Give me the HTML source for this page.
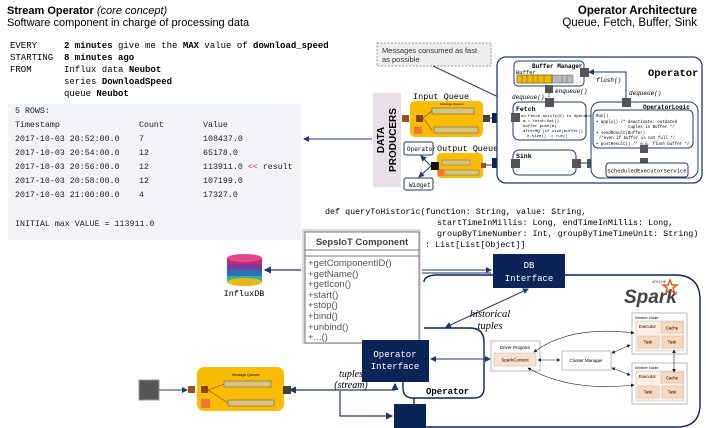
<!DOCTYPE html>
<html><head><meta charset="utf-8"><style>
html,body{margin:0;padding:0;background:#fff;}
svg{display:block;}
.s{font-family:"Liberation Sans",sans-serif;}
.m{font-family:"Liberation Mono",monospace;}
.se{font-family:"Liberation Serif",serif;font-style:italic;}
</style></head><body>
<svg width="706" height="428" viewBox="0 0 706 428" xmlns="http://www.w3.org/2000/svg">
<defs>
<marker id="a" markerWidth="6" markerHeight="6" refX="5" refY="3" orient="auto-start-reverse"><path d="M0,0 L6,3 L0,6 z" fill="#1f3a6e"/></marker>
<marker id="b" markerWidth="6" markerHeight="6" refX="5" refY="3" orient="auto-start-reverse"><path d="M0,0 L6,3 L0,6 z" fill="#222"/></marker>
</defs>
<!-- headers -->
<text x="7" y="14" class="s" font-size="11"><tspan font-weight="bold">Stream Operator</tspan> <tspan font-style="italic">(core concept)</tspan></text>
<text x="7" y="26" class="s" font-size="11">Software component in charge of processing data</text>
<text x="697" y="14" class="s" font-size="11.5" font-weight="bold" text-anchor="end">Operator Architecture</text>
<text x="697" y="26" class="s" font-size="11.5" text-anchor="end">Queue, Fetch, Buffer, Sink</text>
<!-- query -->
<g class="m" font-size="9">
<text x="10" y="48">EVERY</text><text x="64" y="48"><tspan font-weight="bold">2 minutes</tspan> give me the <tspan font-weight="bold">MAX</tspan> value of <tspan font-weight="bold">download_speed</tspan></text>
<text x="10" y="60">STARTING</text><text x="64" y="60" font-weight="bold">8 minutes ago</text>
<text x="10" y="72">FROM</text><text x="64" y="72">Influx data <tspan font-weight="bold">Neubot</tspan></text>
<text x="64" y="84">series <tspan font-weight="bold">DownloadSpeed</tspan></text>
<text x="64" y="96">queue <tspan font-weight="bold">Neubot</tspan></text>
</g>
<rect x="8" y="104" width="293" height="136" fill="#f3f4f7"/>
<g class="m" font-size="8.3" fill="#222">
<text x="15" y="113">5 ROWS:</text>
<text x="15" y="127">Timestamp</text><text x="139" y="127">Count</text><text x="203" y="127">Value</text>
<text x="15" y="141">2017-10-03 20:52:00.0</text><text x="139" y="141">7</text><text x="203" y="141">108437.0</text>
<text x="15" y="155">2017-10-03 20:54:00.0</text><text x="139" y="155">12</text><text x="203" y="155">65178.0</text>
<text x="15" y="169">2017-10-03 20:56:00.0</text><text x="139" y="169">12</text><text x="203" y="169">113911.0 <tspan fill="#d22">&lt;&lt;</tspan> result</text>
<text x="15" y="183">2017-10-03 20:58:00.0</text><text x="139" y="183">12</text><text x="203" y="183">107199.0</text>
<text x="15" y="197">2017-10-03 21:00:00.0</text><text x="139" y="197">4</text><text x="203" y="197">17327.0</text>
<text x="15" y="226">INITIAL max VALUE = 113911.0</text>
</g>
<line x1="372" y1="139" x2="304" y2="139" stroke="#1f3a6e" stroke-width="1" marker-end="url(#a)"/>

<!-- data producers -->
<rect x="373" y="93" width="28" height="94" fill="#e8dfe8"/>
<text transform="translate(384,140) rotate(-90)" class="s" font-size="10" font-weight="bold" text-anchor="middle">DATA</text>
<text transform="translate(396,140) rotate(-90)" class="s" font-size="10" font-weight="bold" text-anchor="middle">PRODUCERS</text>
<!-- input queue -->
<text x="413" y="99" class="m" font-size="8.5">Input Queue</text>
<rect x="410" y="101" width="73" height="36" rx="5" fill="#fbbc05"/>
<rect x="402" y="115" width="7" height="7" fill="#a0501a"/>
<rect x="416" y="115" width="7" height="7" fill="#8b4513"/>
<line x1="423" y1="118" x2="432" y2="111" stroke="#8b4513" stroke-width="0.6"/>
<line x1="423" y1="118" x2="432" y2="130" stroke="#8b4513" stroke-width="0.6"/>
<rect x="432" y="108" width="42" height="6" fill="#d9c57a" stroke="#557" stroke-width="0.5"/>
<rect x="434" y="127" width="44" height="6" fill="#d9c57a" stroke="#557" stroke-width="0.5"/>
<rect x="414" y="127" width="8" height="7" fill="#f2753a"/>
<text x="440" y="105" class="s" font-size="3">Message Queues</text>
<rect x="483" y="115" width="7" height="7" fill="#454535"/>
<!-- output queue -->
<text x="437" y="151" class="m" font-size="8.5">Output Queue</text>
<rect x="437" y="153" width="46" height="25" rx="4" fill="#fbbc05"/>
<rect x="442" y="160" width="28" height="5" fill="#d9c57a" stroke="#557" stroke-width="0.4"/>
<rect x="445" y="170" width="34" height="5" fill="#d9c57a" stroke="#557" stroke-width="0.4"/>
<rect x="438" y="169" width="6" height="7" fill="#f2753a"/>
<rect x="481" y="163" width="5" height="5" fill="#a0501a"/>
<rect x="431" y="162" width="8" height="8" fill="#111"/>
<rect x="404" y="142" width="29" height="13" rx="2" fill="#fff" stroke="#1f3a6e"/>
<text x="407" y="151" class="m" font-size="6">Operator</text>
<rect x="404" y="178" width="29" height="12" rx="2" fill="#fff" stroke="#1f3a6e"/>
<text x="409" y="187" class="m" font-size="6">Widget</text>
<line x1="431" y1="166" x2="421" y2="156" stroke="#1f3a6e" marker-end="url(#a)"/>
<line x1="431" y1="166" x2="419" y2="177" stroke="#1f3a6e" marker-end="url(#a)"/>
<!-- navy squares -->
<rect x="492" y="113" width="10" height="10" fill="#0a2458"/>
<rect x="492" y="158" width="10" height="10" fill="#0a2458"/>
<line x1="490" y1="118" x2="492" y2="118" stroke="#1f3a6e"/>
<line x1="502" y1="118" x2="512" y2="118" stroke="#1f3a6e" stroke-dasharray="2,1"/>
<line x1="486" y1="165" x2="492" y2="165" stroke="#1f3a6e"/>
<line x1="502" y1="163" x2="512" y2="163" stroke="#1f3a6e" stroke-dasharray="2,1"/>
<!-- note -->
<rect x="377" y="43" width="114" height="23" fill="#eee" stroke="#999" stroke-dasharray="2,1.5"/>
<text x="382" y="53" class="s" font-size="7.5" fill="#333">Messages consumed as fast</text>
<text x="382" y="62" class="s" font-size="7.5" fill="#333">as possible</text>
<line x1="433" y1="66" x2="513" y2="104" stroke="#1f3a6e"/>
<!-- operator box -->
<rect x="497" y="57" width="205" height="126" rx="9" fill="#fff" stroke="#1f3a6e" stroke-width="1.3"/>
<text x="648" y="76" class="m" font-size="10.5" font-weight="bold">Operator</text>
<rect x="514" y="61" width="70" height="25" rx="4" fill="#fff" stroke="#1f3a6e"/>
<text x="532" y="68" class="m" font-size="6" font-weight="bold">Buffer Manager</text>
<text x="516" y="74" class="m" font-size="5.5">Buffer</text>
<g stroke="#333" stroke-width="0.4">
<rect x="517" y="75" width="56" height="8" fill="#bbb"/>
<rect x="517" y="75" width="35" height="8" fill="#f5b800"/>
</g>
<g stroke="#333" stroke-width="0.4"><line x1="522" y1="75" x2="522" y2="83"/><line x1="527" y1="75" x2="527" y2="83"/><line x1="533" y1="75" x2="533" y2="83"/><line x1="538" y1="75" x2="538" y2="83"/><line x1="544" y1="75" x2="544" y2="83"/><line x1="552" y1="75" x2="552" y2="83"/><line x1="562" y1="75" x2="562" y2="83"/><line x1="567" y1="75" x2="567" y2="83"/></g>
<rect x="580" y="68" width="9" height="9" fill="#555"/>
<rect x="545" y="85" width="8" height="8" fill="#555"/>
<line x1="549" y1="93" x2="549" y2="100" stroke="#1f3a6e" stroke-dasharray="1.5,1"/>
<text x="555" y="93" class="m" font-size="6" font-style="italic">enqueue()</text>
<text x="512" y="99" class="m" font-size="6" font-style="italic">dequeue()</text>
<text x="596" y="82" class="m" font-size="6" font-style="italic">flush()</text>
<path d="M589 72 L626 72 L626 99" fill="none" stroke="#1f3a6e" marker-start="url(#a)"/>
<text x="629" y="95" class="m" font-size="6" font-style="italic">dequeue()</text>
<!-- fetch -->
<rect x="513" y="102" width="73" height="38" rx="6" fill="#fff" stroke="#1f3a6e"/>
<rect x="545" y="98" width="9" height="9" fill="#555"/>
<rect x="511" y="113" width="9" height="9" fill="#555"/>
<text x="516" y="111" class="m" font-size="6.5" font-weight="bold">Fetch</text>
<g class="m" font-size="4"><text x="521" y="117">on Fetch.notify(E) to Operator</text><text x="523" y="122">m = fetch.Get()</text><text x="523" y="127">buffer.push(m)</text><text x="523" y="132">afterMQ (if size(buffer))</text><text x="527" y="137">e.size() -&gt; run()</text></g>
<!-- sink -->
<rect x="513" y="150" width="63" height="25" rx="6" fill="#fff" stroke="#1f3a6e"/>
<text x="516" y="158" class="m" font-size="6.5" font-weight="bold">Sink</text>
<rect x="511" y="159" width="9" height="9" fill="#555"/>
<rect x="572" y="159" width="9" height="9" fill="#555"/>
<rect x="587" y="159" width="9" height="9" fill="#555"/>
<line x1="581" y1="163" x2="587" y2="163" stroke="#1f3a6e"/>
<!-- operator logic -->
<rect x="591" y="102" width="107" height="76" rx="9" fill="#fff" stroke="#1f3a6e"/>
<rect x="622" y="98" width="9" height="9" fill="#555"/>
<text x="643" y="109" class="m" font-size="6" font-weight="bold">OperatorLogic</text>
<rect x="593" y="110" width="100" height="38" rx="5" fill="#fff" stroke="#1f3a6e"/>
<g class="m" font-size="4.1"><text x="596" y="117">Run()</text><text x="596" y="123">•  apply() /* deactivate: outdated</text><text x="628" y="128">tuples in Buffer */</text><text x="596" y="134">•  sendResult(Buffer)</text><text x="599" y="139">/*even if buffer is not full */</text><text x="596" y="145">•  postResult() /* e.g. flush buffer */</text></g>
<rect x="640" y="145" width="8" height="8" fill="#555"/>
<rect x="640" y="158" width="8" height="8" fill="#555"/>
<rect x="606" y="163" width="82" height="14" rx="3" fill="#fff" stroke="#1f3a6e"/>
<text x="647" y="172.5" class="m" font-size="5.5" text-anchor="middle">ScheduledExecutorService</text>

<!-- code -->
<g class="m" font-size="8.4">
<text x="325" y="214">def queryToHistoric(function: String, value: String,</text>
<text x="437" y="225">startTimeInMillis: Long, endTimeInMillis: Long,</text>
<text x="437" y="236">groupByTimeNumber: Int, groupByTimeTimeUnit: String)</text>
<text x="425" y="247">: List[List[Object]]</text>
</g>
<!-- big spark outline -->
<path d="M565 275 L675 275 Q700 275 700 300 L700 404 Q700 427 677 427 L426 427" fill="none" stroke="#0a2458" stroke-width="1.4"/>
<path d="M493 275 L435 275 Q424 276 424 282" fill="none" stroke="#0a2458" stroke-width="1.4"/>
<!-- operator loop -->
<path d="M424 328 L470 328 Q484 328 484 342 L484 388 Q484 398 474 398 L413 398 Q403 398 403 388 L403 382" fill="none" stroke="#0a2458" stroke-width="1.4"/>
<line x1="414" y1="398" x2="414" y2="404" stroke="#0a2458" stroke-width="1.4"/>
<text x="426" y="394" class="m" font-size="9" font-weight="bold">Operator</text>
<!-- SepsIoT -->
<rect x="302" y="229" width="119" height="115" fill="#ddd"/>
<rect x="305" y="232" width="114" height="111" fill="#fff" stroke="#777"/>
<line x1="305" y1="250" x2="419" y2="250" stroke="#777"/>
<line x1="305" y1="256" x2="419" y2="256" stroke="#777"/>
<text x="362" y="245" class="s" font-size="9.5" font-weight="bold" fill="#444" text-anchor="middle">SepsIoT Component</text>
<g class="s" font-size="9.5" fill="#555">
<text x="308" y="266">+getComponentID()</text><text x="308" y="277">+getName()</text><text x="308" y="287">+getIcon()</text><text x="308" y="298">+start()</text><text x="308" y="308">+stop()</text><text x="308" y="319">+bind()</text><text x="308" y="330">+unbind()</text><text x="308" y="340">+...()</text>
</g>
<!-- influx -->
<g>
<rect x="227" y="258" width="35" height="24" fill="#2fb5a0"/>
<rect x="227" y="258" width="35" height="18" fill="#2f6fb5"/>
<rect x="227" y="258" width="35" height="12" fill="#7a3aa0"/>
<rect x="227" y="258" width="35" height="6" fill="#c8286e"/>
<ellipse cx="244.5" cy="282" rx="17.5" ry="4" fill="#e8b71a"/>
<ellipse cx="244.5" cy="258" rx="17.5" ry="4" fill="#e04a8a"/>
</g>
<text x="244" y="296" class="m" font-size="8.5" text-anchor="middle">InfluxDB</text>
<line x1="301" y1="270" x2="265" y2="270" stroke="#1f3a6e" stroke-width="1.2" marker-end="url(#a)"/>
<!-- DB interface -->
<line x1="422" y1="270" x2="491" y2="270" stroke="#1f3a6e" stroke-width="1" marker-end="url(#a)"/>
<line x1="422" y1="273" x2="491" y2="273" stroke="#1f3a6e" stroke-width="1"/>
<rect x="493" y="254" width="72" height="34" fill="#0a2458"/>
<text x="529" y="268" class="m" font-size="9" fill="#fff" text-anchor="middle">DB</text>
<text x="529" y="281" class="m" font-size="9" fill="#fff" text-anchor="middle">Interface</text>
<line x1="528" y1="289" x2="446" y2="327" stroke="#1f3a6e" marker-start="url(#a)" marker-end="url(#a)"/>
<text x="490" y="317" class="se" font-size="10.5" text-anchor="middle">historical</text>
<text x="490" y="329" class="se" font-size="10.5" text-anchor="middle">tuples</text>
<!-- operator interface -->
<rect x="362" y="340" width="67" height="42" fill="#0a2458"/>
<text x="395" y="357" class="m" font-size="9" fill="#fff" text-anchor="middle">Operator</text>
<text x="395" y="369" class="m" font-size="9" fill="#fff" text-anchor="middle">Interface</text>
<line x1="431" y1="359" x2="490" y2="359" stroke="#1f3a6e" marker-start="url(#a)" marker-end="url(#a)"/>
<rect x="394" y="404" width="32" height="24" fill="#0a2458"/>
<path d="M395 384 L395 390 L290 390" fill="none" stroke="#1f3a6e" stroke-width="1.2" marker-start="url(#a)" marker-end="url(#a)"/>
<path d="M340 391 L340 416 L392 416" fill="none" stroke="#1f3a6e" stroke-width="1.2" marker-end="url(#a)"/>
<text x="351" y="377" class="se" font-size="10" text-anchor="middle">tuples</text>
<text x="351" y="388" class="se" font-size="10" text-anchor="middle">(stream)</text>
<!-- bottom left queue -->
<rect x="139" y="380" width="20" height="20" fill="#555" stroke="#999"/>
<line x1="159" y1="390" x2="187" y2="390" stroke="#1f3a6e" marker-end="url(#a)"/>
<rect x="197" y="367" width="87" height="44" rx="7" fill="#fbbc05"/>
<rect x="188" y="386" width="7" height="7" fill="#a0501a"/>
<rect x="201" y="386" width="7" height="7" fill="#8b4513"/>
<rect x="224" y="381" width="47" height="6" fill="#d9c57a" stroke="#557" stroke-width="0.5"/>
<rect x="228" y="400" width="46" height="6" fill="#d9c57a" stroke="#557" stroke-width="0.5"/>
<line x1="208" y1="390" x2="224" y2="384" stroke="#8b4513" stroke-width="0.6"/>
<line x1="208" y1="390" x2="228" y2="403" stroke="#8b4513" stroke-width="0.6"/>
<rect x="201" y="399" width="9" height="9" fill="#f2753a"/>
<text x="232" y="376" class="s" font-size="3.5">Message Queues</text>
<rect x="283" y="386" width="8" height="8" fill="#454535"/>
<!-- spark logo -->
<text x="624" y="303" class="s" font-size="19" font-weight="bold" font-style="italic" fill="#444">Spark</text>
<text x="652" y="283" class="s" font-size="3.5" fill="#444">APACHE</text>
<path d="M670 280 l2 5 5 0 -4 3 2 5 -5 -3 -4 3 1 -5 -4 -3 5 0z" fill="none" stroke="#e25a1c" stroke-width="1.5"/>
<!-- driver -->
<rect x="491" y="341" width="49" height="30" fill="#fff" stroke="#bbb"/>
<text x="515" y="349" class="s" font-size="4.5" text-anchor="middle">Driver Program</text>
<rect x="494" y="353" width="42" height="13" fill="#fbe0cc" stroke="#bbb" stroke-width="0.5"/>
<text x="515" y="361.5" class="s" font-size="4.5" text-anchor="middle">SparkContext</text>
<rect x="562" y="351" width="49" height="19" fill="#fff" stroke="#bbb"/>
<text x="586" y="362" class="s" font-size="4.5" text-anchor="middle">Cluster Manager</text>
<g>
<rect x="632" y="313" width="55" height="41" fill="#fff" stroke="#bbb"/>
<text x="635" y="319" class="s" font-size="4">Worker Node</text>
<rect x="636" y="321" width="48" height="30" fill="#fdeee2" stroke="#bbb" stroke-width="0.5"/>
<text x="639" y="328" class="s" font-size="4.3">Executor</text>
<rect x="661" y="322" width="22" height="11" fill="#fbd8bd" stroke="#bbb" stroke-width="0.5"/><text x="672" y="329.5" class="s" font-size="4.3" text-anchor="middle">Cache</text>
<rect x="638" y="336" width="21" height="12" fill="#fbd8bd" stroke="#bbb" stroke-width="0.5"/><text x="648" y="343.5" class="s" font-size="4.3" text-anchor="middle">Task</text>
<rect x="662" y="336" width="21" height="12" fill="#fbd8bd" stroke="#bbb" stroke-width="0.5"/><text x="672" y="343.5" class="s" font-size="4.3" text-anchor="middle">Task</text>
</g>
<g transform="translate(0,50)">
<rect x="632" y="313" width="55" height="41" fill="#fff" stroke="#bbb"/>
<text x="635" y="319" class="s" font-size="4">Worker Node</text>
<rect x="636" y="321" width="48" height="30" fill="#fdeee2" stroke="#bbb" stroke-width="0.5"/>
<text x="639" y="328" class="s" font-size="4.3">Executor</text>
<rect x="661" y="322" width="22" height="11" fill="#fbd8bd" stroke="#bbb" stroke-width="0.5"/><text x="672" y="329.5" class="s" font-size="4.3" text-anchor="middle">Cache</text>
<rect x="638" y="336" width="21" height="12" fill="#fbd8bd" stroke="#bbb" stroke-width="0.5"/><text x="648" y="343.5" class="s" font-size="4.3" text-anchor="middle">Task</text>
<rect x="662" y="336" width="21" height="12" fill="#fbd8bd" stroke="#bbb" stroke-width="0.5"/><text x="672" y="343.5" class="s" font-size="4.3" text-anchor="middle">Task</text>
</g>
<g stroke="#222" stroke-width="0.6" fill="none">
<line x1="538" y1="360" x2="560" y2="360" marker-start="url(#b)" marker-end="url(#b)"/>
<line x1="612" y1="353" x2="630" y2="345" marker-start="url(#b)" marker-end="url(#b)"/>
<line x1="612" y1="368" x2="630" y2="375" marker-start="url(#b)" marker-end="url(#b)"/>
<path d="M534 352 Q570 325 634 333" marker-start="url(#b)" marker-end="url(#b)"/>
<path d="M528 368 Q570 392 634 385" marker-start="url(#b)" marker-end="url(#b)"/>
<line x1="674" y1="350" x2="674" y2="372" marker-start="url(#b)" marker-end="url(#b)"/>
</g>
</svg>
</body></html>
